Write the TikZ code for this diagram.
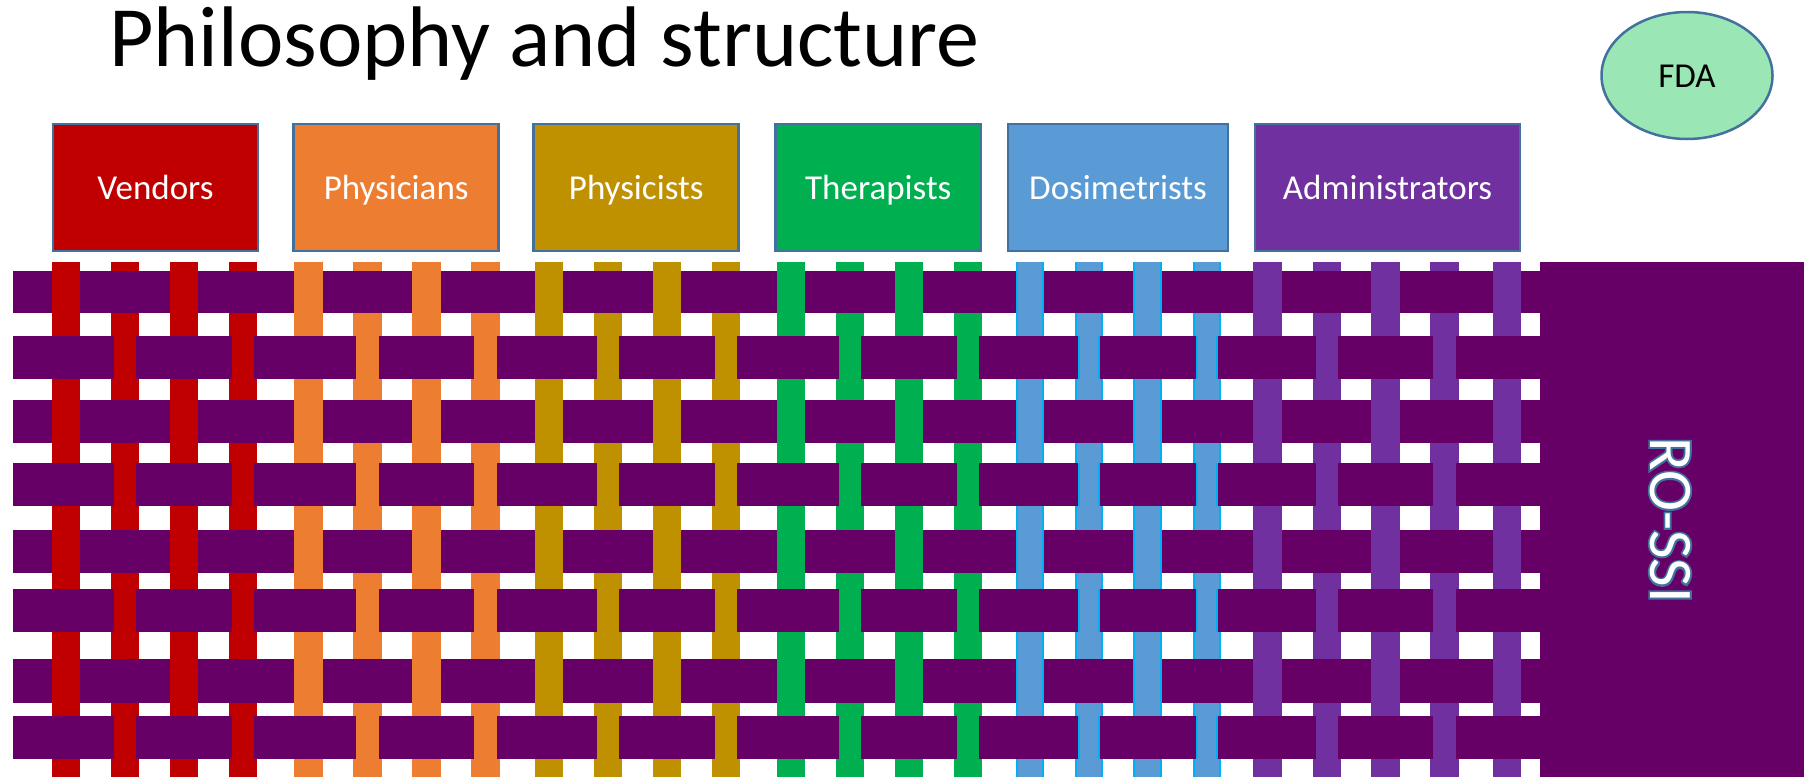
\documentclass[tikz,border=0pt]{standalone}
\usepackage{fontspec}
\setmainfont{Carlito}
\newfontfamily\rossiedgefont[FakeBold=6]{Carlito}
\usetikzlibrary{shapes.geometric}

\definecolor{vend}{HTML}{C00000}
\definecolor{phys}{HTML}{ED7D31}
\definecolor{phyt}{HTML}{BF9000}
\definecolor{ther}{HTML}{00B050}
\definecolor{dosi}{HTML}{5B9BD5}
\definecolor{dosiedge}{HTML}{00B0F0}
\definecolor{admn}{HTML}{7030A0}
\definecolor{weft}{HTML}{660066}
\definecolor{boxedge}{HTML}{41719C}
\definecolor{fdagreen}{HTML}{9AE6B4}

% warp strips: left edge / fill / edge colour / which rows they cross over
\def\warps{51.7/vend/vend/a, 110.7/vend/vend/b, 169.7/vend/vend/a, 228.7/vend/vend/b,
 294.3/phys/phys/a, 353.3/phys/phys/b, 412.3/phys/phys/a, 471.3/phys/phys/b,
 535/phyt/phyt/a, 594/phyt/phyt/b, 652.7/phyt/phyt/a, 711.7/phyt/phyt/b,
 777/ther/ther/a, 836/ther/ther/b, 895/ther/ther/a, 954/ther/ther/b,
 1016/dosi/dosiedge/a, 1074.7/dosi/dosiedge/b, 1133.3/dosi/dosiedge/a, 1192.7/dosi/dosiedge/b,
 1253.3/admn/admn/a, 1312.7/admn/admn/b, 1371.3/admn/admn/a, 1430.3/admn/admn/b, 1493/admn/admn/a}

\tikzset{
  rolebox/.style={draw=boxedge, line width=2.5pt, text=white, inner sep=0pt,
    minimum height=127pt, text height=23pt, text depth=0pt,
    font=\fontsize{35}{40}\selectfont},
}

\begin{document}
\begin{tikzpicture}[x=1pt, y=-1pt]
\useasboundingbox (0,0) rectangle (1804,777);

% title
\node[anchor=base west, inner sep=0pt, font=\fontsize{86}{96}\selectfont] (title) at (109,66.7) {Philosophy and structure};

% regulator
\node[ellipse, draw=boxedge, line width=2.5pt, fill=fdagreen, inner sep=0pt,
      minimum width=171pt, minimum height=127pt, text height=23pt, text depth=0pt,
      font=\fontsize{35}{40}\selectfont] (fda) at (1687,75.5) {FDA};

% stakeholder boxes
\node[rolebox, fill=vend, minimum width=205pt] (vendors) at (155.5,187.5) {Vendors};
\node[rolebox, fill=phys, minimum width=205pt] (physicians) at (396.2,187.5) {Physicians};
\node[rolebox, fill=phyt, minimum width=205pt] (physicists) at (636.2,187.5) {Physicists};
\node[rolebox, fill=ther, minimum width=205.5pt] (therapists) at (878.3,187.5) {Therapists};
\node[rolebox, fill=dosi, minimum width=220pt] (dosimetrists) at (1118,187.5) {Dosimetrists};
\node[rolebox, fill=admn, minimum width=265pt] (administrators) at (1387.5,187.5) {Administrators};

% warp strips
\foreach \x/\c/\e/\k in \warps {
  \fill[\e] (\x,262.3) rectangle (\x+28.4,777);
  \fill[\c] (\x+2,262.3) rectangle (\x+26.4,777);
}

% RO-SSI band
\fill[weft] (1540,262.3) rectangle (1804,777);
\node[rotate=-90, text=boxedge, inner sep=0pt, font=\rossiedgefont\fontsize{62}{70}\selectfont] (rossiedge) at (1670,520) {RO-SSI};
\node[rotate=-90, text=white, inner sep=0pt, font=\fontsize{62}{70}\selectfont] (rossi) at (1670,520) {RO-SSI};

% weft rows with the warp strips that pass over them
\foreach \t/\b/\rk/\ins in {271/313.3/a/0, 336.3/379/b/3, 400.3/443/a/0, 462.7/505.7/b/3,
                             530/572.7/a/0, 589.3/632.3/b/3, 659.3/702.7/a/0, 716.3/759/b/3} {
  \fill[weft] (12.7,\t) rectangle (1541,\b);
  \foreach \x/\c/\e/\k in \warps {
    \ifx\k\rk
      \fill[\e] (\x+\ins,\t) rectangle (\x+28.4-\ins,\b);
      \fill[\c] (\x+\ins+2,\t) rectangle (\x+26.4-\ins,\b);
    \fi
  }
}
\end{tikzpicture}
\end{document}
